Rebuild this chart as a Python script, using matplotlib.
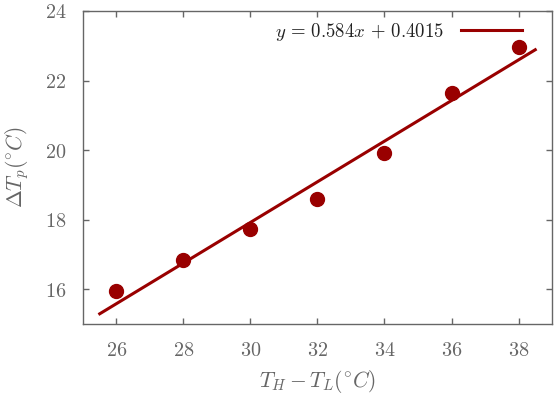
import numpy as np
import matplotlib.pyplot as plt

plt.rcParams['mathtext.fontset'] = 'cm'
plt.rcParams['font.family'] = 'serif'

# measured points
dT = [26, 28, 30, 32, 34, 36, 38]
dTp = [15.96, 16.83, 17.72, 18.58, 19.92, 21.63, 22.97]

# linear fit shown in the key
slope = 0.584
intercept = 0.4015
fit_x = np.array([25.5, 38.5])
fit_y = slope * fit_x + intercept

xticks = [26, 28, 30, 32, 34, 36, 38]
yticks = [16, 18, 20, 22, 24]

red = '#990000'
grey = '#666666'

fig = plt.figure(figsize=(5.54, 3.97), dpi=100)
ax = fig.add_axes([0.1498, 0.1839, 0.8466, 0.7884])

ax.plot(dT, dTp, 'o', color=red, ms=10, zorder=3)
ax.plot(fit_x, fit_y, '-', color=red, lw=2.2,
        label=r'$y\,=\,0.584x\,+\,0.4015$')

ax.set_xlim(25, 39)
ax.set_ylim(15, 24)
ax.set_xticks(xticks)
ax.set_yticks(yticks)
ax.set_xticklabels([f'${t}$' for t in xticks])
ax.set_yticklabels([f'${t}$' for t in yticks])

for s in ax.spines.values():
    s.set_color(grey)
    s.set_linewidth(1.0)
ax.tick_params(direction='in', top=True, right=True, length=4, width=1.0,
               color=grey, labelcolor=grey, labelsize=14.5)
ax.tick_params(axis='x', pad=12)
ax.tick_params(axis='y', pad=12)

ax.set_xlabel(r'$T_H - T_L(^{\circ}C)$', fontsize=15.5, color=grey, labelpad=6)
ax.set_ylabel(r'$\Delta T_p(^{\circ}C)$', fontsize=15.5, color=grey, labelpad=10)

leg = ax.legend(loc='upper right', bbox_to_anchor=(0.985, 1.04), frameon=False,
                markerfirst=False, fontsize=13.5, handlelength=3.3,
                handletextpad=0.9, borderaxespad=0.8)
for t in leg.get_texts():
    t.set_color('#222222')

fig.savefig('out.png', dpi=100)
